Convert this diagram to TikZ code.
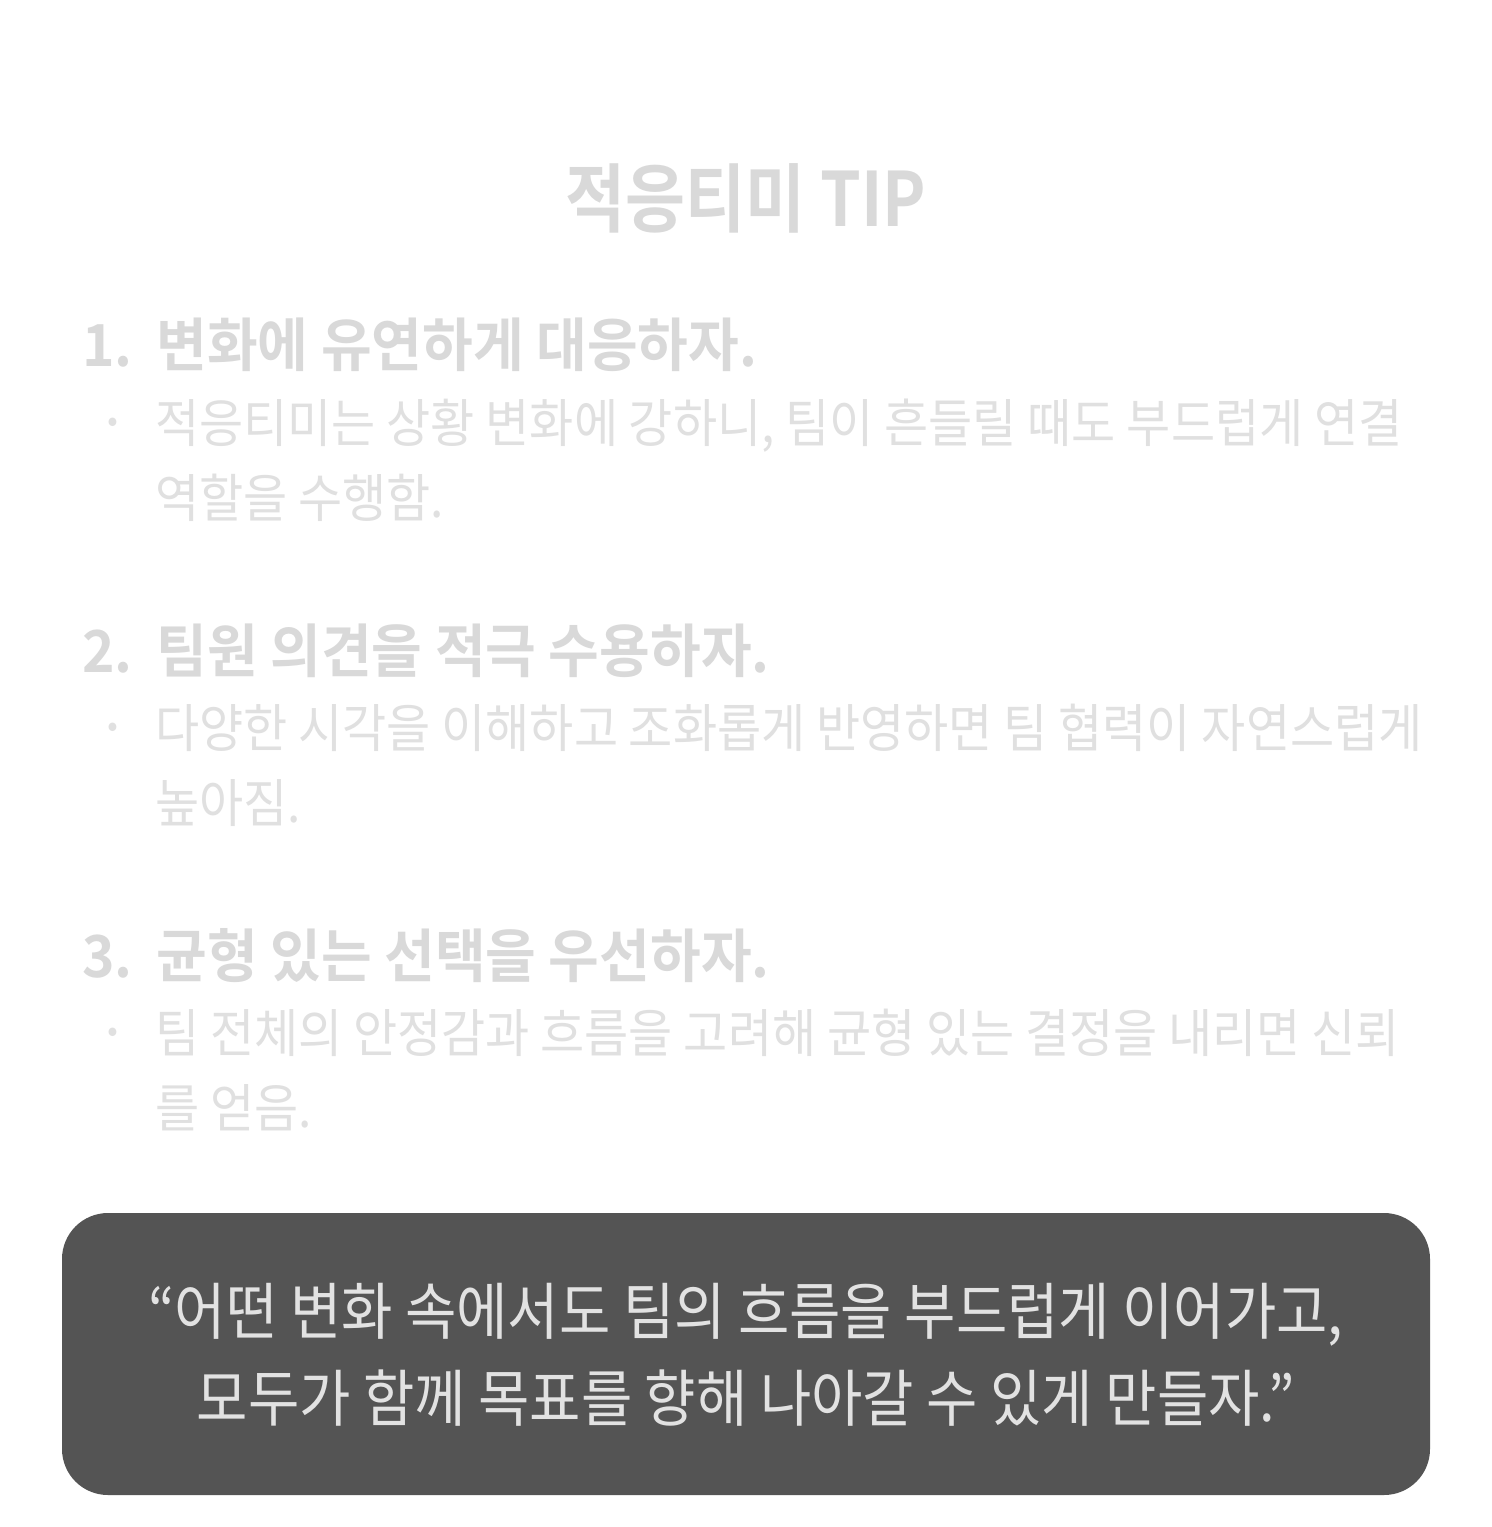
\documentclass[tikz,border=0pt]{standalone}
\usepackage{fontspec}
\newfontfamily\krB[FakeStretch=0.87]{Noto Sans CJK KR Bold}
\newfontfamily\krH[FakeStretch=0.95]{Noto Sans CJK KR Bold}
\newfontfamily\krR[FakeStretch=0.923]{Noto Sans CJK KR}
\newfontfamily\krM[FakeStretch=0.90]{Noto Sans CJK KR}
\definecolor{headgray}{HTML}{D9D9D9}
\definecolor{bodygray}{HTML}{E0E0E0}
\definecolor{boxgray}{HTML}{545454}
\definecolor{boxtext}{HTML}{E2E2E2}
\tikzset{
  titletext/.style={text=headgray, inner sep=0pt, anchor=base, font=\krB\fontsize{75}{80}\selectfont},
  headtext/.style={text=headgray, inner sep=0pt, anchor=base west, font=\krH\fontsize{58}{62}\selectfont},
  bodytext/.style={text=bodygray, inner sep=0pt, anchor=base west, font=\krR\fontsize{52}{56}\selectfont},
  bulletmark/.style={text=bodygray, inner sep=0pt, anchor=center, font=\krR\fontsize{40}{44}\selectfont},
  quotetext/.style={text=boxtext, inner sep=0pt, anchor=base, font=\krM\fontsize{62}{66}\selectfont},
  quotebox/.style={fill=boxgray, draw=none, rounded corners=46pt}
}
\begin{document}
\begin{tikzpicture}[x=1pt,y=-1pt]
\useasboundingbox (0,0) rectangle (1492,1527);
\fill[white] (0,0) rectangle (1492,1527);

\node[titletext] (title) at (746,226) {적응티미 TIP};

% item 1
\node[headtext] (h1) at (82,366) {1.\hspace{24pt}변화에 유연하게 대응하자.};
\node[bulletmark] (b1) at (113,428) {・};
\node[bodytext] (t1a) at (155,442) {적응티미는 상황 변화에 강하니, 팀이 흔들릴 때도 부드럽게 연결};
\node[bodytext] (t1b) at (155,517) {역할을 수행함.};

% item 2
\node[headtext] (h2) at (82,672) {2.\hspace{24pt}팀원 의견을 적극 수용하자.};
\node[bulletmark] (b2) at (113,733) {・};
\node[bodytext] (t2a) at (155,747) {다양한 시각을 이해하고 조화롭게 반영하면 팀 협력이 자연스럽게};
\node[bodytext] (t2b) at (155,822) {높아짐.};

% item 3
\node[headtext] (h3) at (82,977) {3.\hspace{24pt}균형 있는 선택을 우선하자.};
\node[bulletmark] (b3) at (113,1038) {・};
\node[bodytext] (t3a) at (155,1052) {팀 전체의 안정감과 흐름을 고려해 균형 있는 결정을 내리면 신뢰};
\node[bodytext] (t3b) at (155,1127) {를 얻음.};

% quote box
\path[quotebox] (62,1213) rectangle (1430,1495);
\node[quotetext] (q1) at (746,1334) {“어떤 변화 속에서도 팀의 흐름을 부드럽게 이어가고,};
\node[quotetext] (q2) at (746,1421) {모두가 함께 목표를 향해 나아갈 수 있게 만들자.”};
\end{tikzpicture}
\end{document}
